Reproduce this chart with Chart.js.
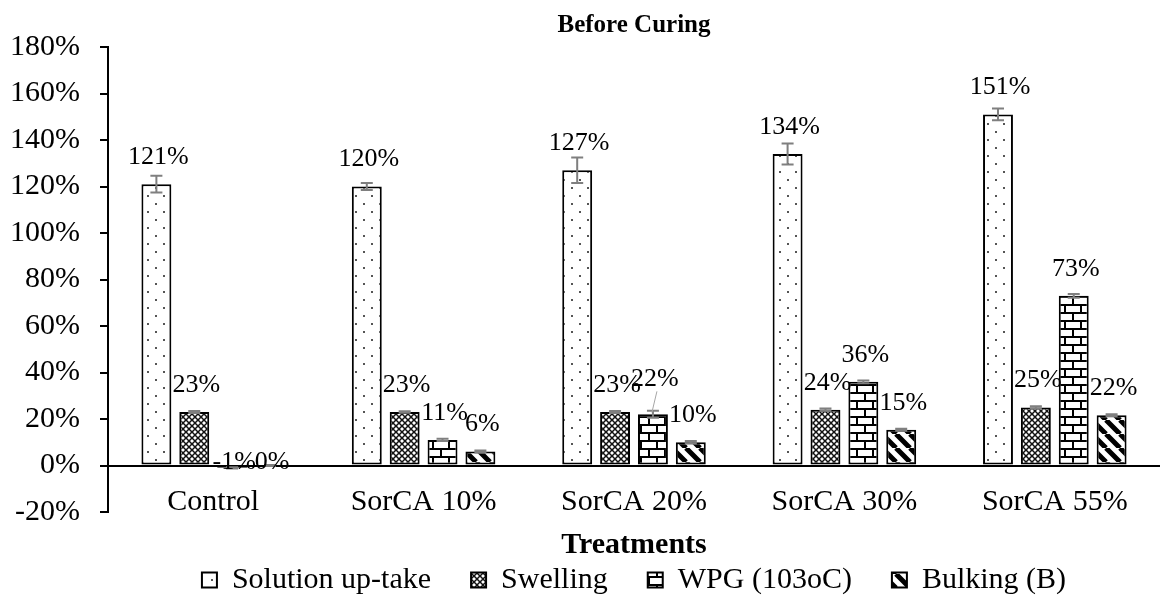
<!DOCTYPE html>
<html lang="en">
<head>
<meta charset="UTF-8">
<title>Before Curing</title>
<script src="https://cdn.jsdelivr.net/npm/chart.js"></script>
<style>
    body { margin: 0; background: #fff; }
    .wrap { width: 1162px; height: 605px; }
</style>
</head>
<body>
<div class="wrap"><canvas id="chart"></canvas></div>
<script>
// values (percent)
const categories = ['Control', 'SorCA 10%', 'SorCA 20%', 'SorCA 30%', 'SorCA 55%'];
const uptake   = [121, 120, 127, 134, 151];
const swelling = [23, 23, 23, 24, 25];
const wpg      = [-1, 11, 22, 36, 73];
const bulking  = [0, 6, 10, 15.4, 21.6];

const uptakeErr   = [3.6, 1.5, 5.5, 4.5, 2.5];
const swellingErr = [0.4, 0.3, 0.4, 0.5, 0.5];
const wpgErr      = [0.3, 0.5, 1.5, 0.6, 0.8];
const bulkingErr  = [0.2, 0.4, 0.5, 0.4, 0.4];

const yMin = -20, yMax = 180, yStep = 20;

const serif = '"Liberation Serif", "Times New Roman", serif';
Chart.defaults.font.family = serif;
Chart.defaults.color = '#000';

// fill patterns
function makePattern(w, h, draw) {
    const c = document.createElement('canvas');
    c.width = w; c.height = h;
    const g = c.getContext('2d');
    g.fillStyle = '#fff';
    g.fillRect(0, 0, w, h);
    draw(g);
    return g.createPattern(c, 'repeat');
}

const dots = makePattern(16, 16, g => {
    g.fillStyle = '#555';
    g.fillRect(3, 3, 2, 2);
    g.fillRect(11, 11, 2, 2);
});

const hatch = makePattern(6, 6, g => {
    g.strokeStyle = '#111';
    g.lineWidth = 1.5;
    g.beginPath();
    g.moveTo(0, 0); g.lineTo(6, 6);
    g.moveTo(6, 0); g.lineTo(0, 6);
    g.stroke();
});

const brick = makePattern(16, 16, g => {
    g.fillStyle = '#000';
    g.fillRect(0, 0, 16, 2);
    g.fillRect(0, 8, 16, 2);
    g.fillRect(8, 0, 2, 8);
    g.fillRect(0, 8, 2, 8);
});

const stripes = makePattern(14, 14, g => {
    g.strokeStyle = '#000';
    g.lineWidth = 5;
    g.beginPath();
    [-14, 0, 14].forEach(x0 => { g.moveTo(x0, 0); g.lineTo(x0 + 14, 14); });
    g.stroke();
});

const errs = [uptakeErr, swellingErr, wpgErr, bulkingErr];

const errorBars = {
    id: 'errorBars',
    afterDatasetsDraw(chart) {
        const { ctx, scales: { y } } = chart;
        ctx.save();
        ctx.strokeStyle = '#7f7f7f';
        ctx.lineWidth = 2;
        chart.data.datasets.forEach((ds, i) => {
            chart.getDatasetMeta(i).data.forEach((bar, j) => {
                const v = ds.data[j], e = errs[i][j];
                const top = y.getPixelForValue(v + e);
                const bot = y.getPixelForValue(v - e);
                ctx.beginPath();
                ctx.moveTo(bar.x, top); ctx.lineTo(bar.x, bot);
                ctx.moveTo(bar.x - 6, top); ctx.lineTo(bar.x + 6, top);
                ctx.moveTo(bar.x - 6, bot); ctx.lineTo(bar.x + 6, bot);
                ctx.stroke();
            });
        });
        ctx.restore();
    }
};

const valueLabels = {
    id: 'valueLabels',
    afterDatasetsDraw(chart) {
        const { ctx, scales: { y } } = chart;
        ctx.save();
        ctx.font = '26px ' + serif;
        ctx.fillStyle = '#000';
        ctx.textAlign = 'center';
        ctx.textBaseline = 'middle';
        chart.data.datasets.forEach((ds, i) => {
            chart.getDatasetMeta(i).data.forEach((bar, j) => {
                const v = ds.data[j];
                let ly = v > 0 ? bar.y - 27 : y.getPixelForValue(0) - 3;
                // the WPG label of SorCA 20% was moved up, with a leader line
                if (i === 2 && j === 2) {
                    ly -= 8;
                    ctx.save();
                    ctx.strokeStyle = '#a6a6a6';
                    ctx.lineWidth = 1;
                    ctx.beginPath();
                    ctx.moveTo(bar.x + 4, ly + 12);
                    ctx.lineTo(bar.x - 1, bar.y - 2);
                    ctx.stroke();
                    ctx.restore();
                    ctx.fillText(Math.round(v) + '%', bar.x + 2, ly);
                    return;
                }
                ctx.fillText(Math.round(v) + '%', bar.x + 2, ly);
            });
        });
        ctx.restore();
    }
};

const barStyle = { borderColor: '#000', borderWidth: 2, borderSkipped: false,
                   categoryPercentage: 0.72, barPercentage: 0.79 };

new Chart(document.getElementById('chart'), {
    type: 'bar',
    data: {
        labels: categories,
        datasets: [
            { label: 'Solution up-take', data: uptake, backgroundColor: dots, ...barStyle },
            { label: 'Swelling', data: swelling, backgroundColor: hatch, ...barStyle },
            { label: 'WPG (103oC)', data: wpg, backgroundColor: brick, ...barStyle },
            { label: 'Bulking (B)', data: bulking, backgroundColor: stripes, ...barStyle }
        ]
    },
    options: {
        responsive: true,
        maintainAspectRatio: false,
        animation: false,
        layout: { padding: { left: 10, right: 2, top: 0, bottom: 0 } },
        scales: {
            x: {
                // category labels sit just under the 0% line
                position: { y: 0 },
                afterFit: s => { s.height = 0; },
                grid: { display: false },
                border: { display: false },
                ticks: { color: '#000', font: { size: 30 }, padding: 11, maxRotation: 0 }
            },
            y: {
                min: yMin,
                max: yMax,
                afterFit: s => { s.width = 98; },
                ticks: { stepSize: yStep, callback: v => v + '%', color: '#000',
                         font: { size: 30 }, padding: 20 },
                grid: {
                    color: c => (c.tick && c.tick.value === 0) ? '#000' : 'transparent',
                    lineWidth: 2,
                    tickColor: '#000',
                    tickLength: 8,
                    drawTicks: true
                },
                border: { display: true, color: '#000', width: 2 }
            }
        },
        plugins: {
            title: {
                display: true,
                text: 'Before Curing',
                color: '#000',
                fullSize: false,
                align: 'center',
                font: { size: 25, weight: 'bold' },
                padding: { top: 11, bottom: 6 }
            },
            subtitle: {
                display: true,
                position: 'bottom',
                fullSize: false,
                weight: 500,
                text: 'Treatments',
                color: '#000',
                font: { size: 30, weight: 'bold' },
                padding: { top: 15, bottom: -38 }
            },
            legend: {
                position: 'bottom',
                fullSize: false,
                weight: 1000,
                labels: { color: '#000', font: { size: 30 }, boxWidth: 15, boxHeight: 15, padding: 40 }
            },
            tooltip: { enabled: false }
        }
    },
    plugins: [errorBars, valueLabels]
});
</script>
</body>
</html>
